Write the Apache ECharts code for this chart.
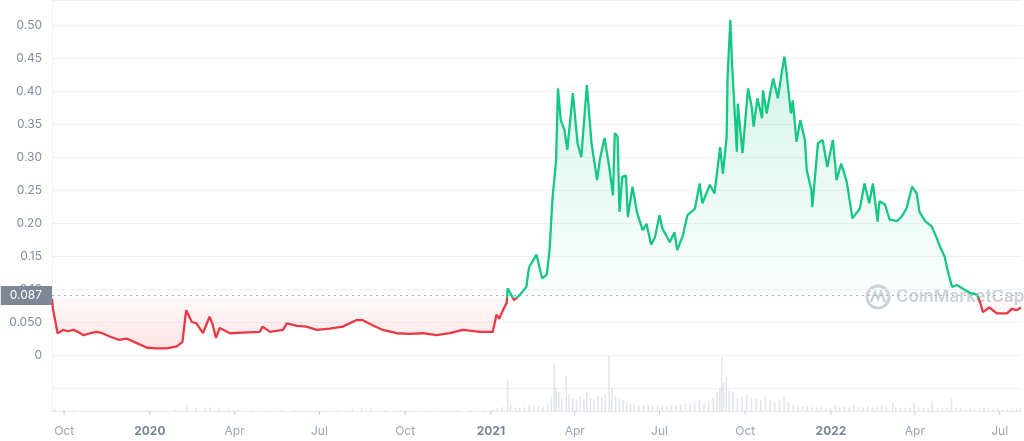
<!DOCTYPE html>
<html>
<head>
<meta charset="utf-8">
<script src="https://cdn.jsdelivr.net/npm/echarts@6/dist/echarts.min.js"></script>
<style>
html,body{margin:0;padding:0;background:#fff;}
#chart{width:1024px;height:441px;}
</style>
</head>
<body>
<div id="chart"></div>
<script>
// ---- data ----
const priceDates = [
'2019-09-18','2019-09-19','2019-09-24','2019-09-30','2019-10-05','2019-10-11','2019-10-16','2019-10-22','2019-10-29',
'2019-11-05','2019-11-11','2019-11-19','2019-11-29','2019-12-07','2019-12-18','2019-12-29',
'2020-01-08','2020-01-19','2020-01-30','2020-02-05','2020-02-07','2020-02-09','2020-02-15','2020-02-20','2020-02-27',
'2020-03-05','2020-03-08','2020-03-12','2020-03-16','2020-03-27','2020-04-09','2020-04-28','2020-05-01','2020-05-09',
'2020-05-23','2020-05-27','2020-06-07','2020-06-17','2020-06-28','2020-07-12','2020-07-26','2020-08-10','2020-08-16',
'2020-08-27','2020-09-07','2020-09-22','2020-10-06','2020-10-20','2020-11-04','2020-11-18','2020-12-02','2020-12-20',
'2021-01-03','2021-01-07','2021-01-10','2021-01-14','2021-01-18','2021-01-19','2021-01-26','2021-02-01','2021-02-08',
'2021-02-11','2021-02-19','2021-02-25','2021-03-02','2021-03-05','2021-03-08','2021-03-12','2021-03-14','2021-03-17',
'2021-03-21','2021-03-24','2021-03-30','2021-04-04','2021-04-08','2021-04-14','2021-04-19','2021-04-25','2021-04-28',
'2021-05-03','2021-05-08','2021-05-12','2021-05-14','2021-05-17','2021-05-19','2021-05-22','2021-05-26','2021-05-28',
'2021-06-02','2021-06-07','2021-06-13','2021-06-17','2021-06-22','2021-06-26','2021-07-01','2021-07-04','2021-07-12',
'2021-07-17','2021-07-20','2021-07-26','2021-07-31','2021-08-08','2021-08-13','2021-08-16','2021-08-24','2021-08-29',
'2021-09-04','2021-09-07','2021-09-11','2021-09-12','2021-09-15','2021-09-17','2021-09-22','2021-09-23','2021-09-28',
'2021-10-04','2021-10-08','2021-10-10','2021-10-14','2021-10-19','2021-10-20','2021-10-24','2021-10-27','2021-10-31',
'2021-11-05','2021-11-09','2021-11-12','2021-11-14','2021-11-19','2021-11-21','2021-11-25','2021-11-29','2021-12-04',
'2021-12-06','2021-12-11','2021-12-12','2021-12-18','2021-12-23','2021-12-28','2022-01-03','2022-01-07','2022-01-12',
'2022-01-18','2022-01-24','2022-02-01','2022-02-06','2022-02-11','2022-02-15','2022-02-20','2022-02-22','2022-02-28',
'2022-03-05','2022-03-13','2022-03-18','2022-03-23','2022-03-29','2022-04-03','2022-04-06','2022-04-12','2022-04-19',
'2022-04-24','2022-04-28','2022-05-03','2022-05-06','2022-05-11','2022-05-16','2022-05-22','2022-05-30','2022-06-07',
'2022-06-10','2022-06-13','2022-06-20','2022-06-28','2022-07-09','2022-07-14','2022-07-19','2022-07-24'
];
const priceValues = [
0.085,0.070,0.033,0.038,0.036,0.038,0.035,0.030,0.033,
0.035,0.033,0.028,0.023,0.025,0.018,0.011,
0.010,0.010,0.013,0.020,0.022,0.068,0.050,0.048,0.033,
0.058,0.048,0.026,0.041,0.033,0.034,0.035,0.043,0.035,
0.038,0.048,0.044,0.043,0.038,0.040,0.043,0.053,0.053,
0.045,0.038,0.033,0.032,0.033,0.030,0.033,0.038,0.035,
0.035,0.061,0.055,0.068,0.079,0.101,0.083,0.091,0.103,
0.133,0.152,0.116,0.122,0.159,0.235,0.295,0.404,0.356,
0.341,0.311,0.397,0.321,0.300,0.409,0.321,0.265,0.297,
0.329,0.285,0.242,0.336,0.331,0.217,0.270,0.272,0.209,
0.255,0.215,0.189,0.199,0.167,0.178,0.212,0.192,0.171,
0.186,0.159,0.181,0.212,0.222,0.260,0.230,0.258,0.245,
0.315,0.275,0.330,0.421,0.508,0.437,0.308,0.381,0.306,
0.404,0.376,0.346,0.389,0.359,0.401,0.366,0.391,0.419,
0.389,0.427,0.452,0.432,0.366,0.386,0.323,0.356,0.326,
0.280,0.250,0.224,0.321,0.326,0.285,0.326,0.265,0.290,
0.262,0.207,0.222,0.260,0.230,0.260,0.202,0.233,0.228,
0.205,0.203,0.210,0.222,0.255,0.245,0.217,0.203,0.195,
0.179,0.164,0.149,0.129,0.103,0.106,0.101,0.094,0.091,
0.080,0.065,0.072,0.063,0.063,0.070,0.068,0.072
];
const volDates = [
'2019-09-20','2019-09-30','2019-10-10','2019-10-20','2019-10-30','2019-11-09','2019-11-19','2019-11-29','2019-12-09',
'2019-12-19','2019-12-29','2020-01-08','2020-01-18','2020-01-28','2020-02-09','2020-02-19','2020-02-29','2020-03-05',
'2020-03-15','2020-03-25','2020-04-05','2020-04-20','2020-05-05','2020-05-20','2020-06-05','2020-06-20','2020-07-05',
'2020-07-20','2020-08-05','2020-08-15','2020-08-25','2020-09-10','2020-09-25','2020-10-10','2020-10-25','2020-11-10',
'2020-11-25','2020-12-10','2020-12-25',
'2021-01-03','2021-01-08','2021-01-13','2021-01-19','2021-01-22','2021-01-27','2021-02-01','2021-02-06','2021-02-11',
'2021-02-16','2021-02-21','2021-02-26','2021-03-03','2021-03-07','2021-03-10','2021-03-12','2021-03-15','2021-03-18',
'2021-03-23','2021-03-26','2021-03-30','2021-04-03','2021-04-07','2021-04-11','2021-04-14','2021-04-18','2021-04-22',
'2021-04-26','2021-04-30','2021-05-04','2021-05-08','2021-05-11','2021-05-15','2021-05-19','2021-05-23','2021-05-27',
'2021-05-31','2021-06-04','2021-06-09','2021-06-14','2021-06-19','2021-06-24','2021-06-29','2021-07-04','2021-07-09',
'2021-07-14','2021-07-19','2021-07-24','2021-07-29','2021-08-03','2021-08-08','2021-08-13','2021-08-18','2021-08-23',
'2021-08-28','2021-09-01','2021-09-04','2021-09-06','2021-09-08','2021-09-11','2021-09-14','2021-09-18','2021-09-23',
'2021-09-28','2021-10-03','2021-10-08','2021-10-13','2021-10-18','2021-10-23','2021-10-28','2021-11-02','2021-11-07',
'2021-11-12','2021-11-17','2021-11-22','2021-11-27','2021-12-02','2021-12-07','2021-12-12','2021-12-17','2021-12-22',
'2021-12-27','2022-01-01','2022-01-06','2022-01-11','2022-01-16','2022-01-21','2022-01-26','2022-01-31','2022-02-05',
'2022-02-10','2022-02-15','2022-02-20','2022-02-25','2022-03-02','2022-03-09','2022-03-12','2022-03-17','2022-03-22',
'2022-03-27','2022-04-01','2022-04-06','2022-04-11','2022-04-16','2022-04-20','2022-04-26','2022-05-01','2022-05-06',
'2022-05-11','2022-05-16','2022-05-21','2022-05-26','2022-05-31','2022-06-05','2022-06-10','2022-06-15','2022-06-20',
'2022-06-25','2022-06-30','2022-07-05','2022-07-10','2022-07-15','2022-07-20','2022-07-24'
];
const volValues = [
3,1.5,1,1,1,1,1,0.8,0.8,
0.8,0.8,0.8,1,1.5,6,3,2,4,
2.5,2,1.5,1.5,1.5,1.2,1.2,1.2,1.2,
1.2,2,3,2,1.5,1.2,1.2,1.2,1.2,
1.2,1.5,1.5,
2,3,4,34,6,4,3,4,7,
5,6,5,8,15,51,25,20,14,
38,18,14,12,16,13,20,14,12,
16,15,18,59,25,16,14,12,10,
8,7,6,6,7,6,7,6,5,
6,6,7,8,9,10,12,9,11,
14,20,25,58,30,37,22,20,14,
15,17,14,13,12,16,12,10,12,
15,10,7,6,5,5,4,4,4,
3,3,6,4,5,4,7,4,4,
5,4,4,6,4,9,4,3,3,
4,9,4,3,3,11,3,3,4,
13,4,3,2,2,2,2,3,2,
2,3,2,2,2,2,2
];
const xTickDates = ['2019-10-01','2020-01-01','2020-04-01','2020-07-01','2020-10-01','2021-01-01','2021-04-01','2021-07-01','2021-10-01','2022-01-01','2022-04-01','2022-07-01'];
const xTickLabels = ['Oct','2020','Apr','Jul','Oct','2021','Apr','Jul','Oct','2022','Apr','Jul'];
const yTickValues = ['0','0.050','0.10','0.15','0.20','0.25','0.30','0.35','0.40','0.45','0.50'];
const refPrice = 0.087;
const xStart = '2019-09-18';
const xEnd = '2022-07-25';

// ---- chart ----
const chart = echarts.init(document.getElementById('chart'), null, {renderer: 'canvas'});
const FONT = 'Inter, "Noto Sans", sans-serif';
const GREEN = '#16c784', RED = '#ea3943';
const priceData = priceDates.map((d, i) => [d, priceValues[i]]);
const volData = volDates.map((d, i) => [d, volValues[i]]);
const tickTimes = xTickDates.map(d => echarts.time.parse(d).getTime());

function yLabel(v) {
  if (v < -1e-9 || v > 0.5 + 1e-9) return '';
  const idx = Math.round(v / 0.05);
  if (Math.abs(idx * 0.05 - v) > 1e-6) return '';
  return yTickValues[idx] || '';
}
function xLabel(v) {
  for (let i = 0; i < tickTimes.length; i++) {
    if (Math.abs(tickTimes[i] - v) < 43200000) {
      const t = xTickLabels[i];
      return /^\d{4}$/.test(t) ? '{yr|' + t + '}' : t;
    }
  }
  return '';
}

function lineGradient(yPix, top, bottom, withArea) {
  const off = Math.min(1, Math.max(0, (yPix - top) / (bottom - top)));
  if (!withArea) {
    return {type: 'linear', x: 0, y: top, x2: 0, y2: bottom, global: true,
      colorStops: [{offset: 0, color: GREEN}, {offset: off, color: GREEN}, {offset: off, color: RED}, {offset: 1, color: RED}]};
  }
  return {type: 'linear', x: 0, y: top, x2: 0, y2: bottom, global: true,
    colorStops: [
      {offset: 0, color: 'rgba(22,199,132,0.32)'},
      {offset: off, color: 'rgba(22,199,132,0.02)'},
      {offset: off, color: 'rgba(234,57,67,0.04)'},
      {offset: 1, color: 'rgba(234,57,67,0.22)'}
    ]};
}

const option = {
  animation: false,
  backgroundColor: '#ffffff',
  textStyle: {fontFamily: FONT},
  grid: [
    {left: 52, right: 2, top: 0, bottom: 53},
    {left: 52, right: 2, top: 355, bottom: 30}
  ],
  xAxis: [
    {type: 'time', gridIndex: 0, min: xStart, max: xEnd, show: false},
    {
      type: 'time', gridIndex: 1, min: xStart, max: xEnd,
      axisLine: {show: true, lineStyle: {color: '#e6e9ee', width: 1}},
      axisTick: {show: false},
      splitLine: {show: false},
      axisLabel: {show: false}
    },
    {type: 'time', gridIndex: 1, min: xStart, max: xEnd, show: false}
  ],
  yAxis: [
    {
      type: 'value', gridIndex: 0, min: -0.05, max: 0.538, interval: 0.05,
      axisLine: {show: true, lineStyle: {color: '#f1f3f6'}},
      axisTick: {show: false},
      splitLine: {show: true, lineStyle: {color: '#eff2f5', width: 1}},
      axisLabel: {margin: 10, fontSize: 12, color: '#858ca2', fontFamily: FONT, formatter: yLabel, showMaxLabel: false}
    },
    {
      type: 'value', gridIndex: 1, min: 0, max: 60,
      axisLine: {show: true, lineStyle: {color: '#f1f3f6'}},
      axisTick: {show: false}, axisLabel: {show: false}, splitLine: {show: false}
    }
  ],
  graphic: [
    {type: 'circle', z: -1, shape: {cx: 878, cy: 297, r: 11}, style: {fill: 'none', stroke: '#cdd2d9', lineWidth: 3}},
    {type: 'polyline', z: -1, shape: {points: [[871, 302], [875, 292], [878, 299], [881, 292], [885, 302]]}, style: {fill: 'none', stroke: '#cdd2d9', lineWidth: 2.5}},
    {type: 'text', z: -1, style: {x: 896, y: 297, text: 'CoinMarketCap', fill: '#cdd2d9', font: '600 17px Inter, "Noto Sans", sans-serif', verticalAlign: 'middle'}}
  ],
  series: [
    {
      name: 'Price', type: 'line', xAxisIndex: 0, yAxisIndex: 0,
      data: priceData, showSymbol: false, symbol: 'none', smooth: false,
      lineStyle: {width: 2.3, color: GREEN},
      areaStyle: {origin: refPrice, color: 'rgba(22,199,132,0.1)'},
      markLine: {
        silent: true, symbol: 'none',
        lineStyle: {color: '#a9b0bd', type: [2, 4], width: 1},
        label: {
          show: true, position: 'start', distance: 0,
          formatter: '0.087', color: '#ffffff', fontSize: 12, fontFamily: FONT,
          backgroundColor: '#7f8797', padding: [3, 10, 2, 9], lineHeight: 14
        },
        data: [{yAxis: refPrice}]
      },
      z: 3
    },
    {
      name: 'Volume', type: 'bar', xAxisIndex: 1, yAxisIndex: 1,
      data: volData, barWidth: 1.5, itemStyle: {color: '#e1e4ea'}, z: 1
    },
    {
      // x-axis ticks and labels at quarter starts, placed through the time axis
      name: 'ticks', type: 'scatter', xAxisIndex: 2, yAxisIndex: 1,
      data: xTickDates.map(d => [d, 0]), symbol: 'rect', symbolSize: [1, 4], symbolOffset: [0, 2],
      itemStyle: {color: '#b9bfc9'}, silent: true, clip: false, z: 4,
      label: {
        show: true, position: 'bottom', distance: 10, fontSize: 12, color: '#858ca2', fontFamily: FONT,
        formatter: p => xLabel(echarts.time.parse(p.value[0]).getTime()),
        rich: {yr: {fontWeight: 'bold', color: '#58667e', fontSize: 12, fontFamily: FONT}}
      }
    }
  ]
};
chart.setOption(option);

// colour the price line and its area by the reference price, through the y scale
const yRef = chart.convertToPixel({yAxisIndex: 0}, refPrice);
const yTop = chart.convertToPixel({yAxisIndex: 0}, 0.53);
const yZero = chart.convertToPixel({yAxisIndex: 0}, 0);
chart.setOption({
  series: [{
    name: 'Price',
    lineStyle: {color: lineGradient(yRef, yTop, yZero, false)},
    areaStyle: {origin: refPrice, color: lineGradient(yRef, yTop, yZero, true)}
  }]
});
</script>
</body>
</html>
